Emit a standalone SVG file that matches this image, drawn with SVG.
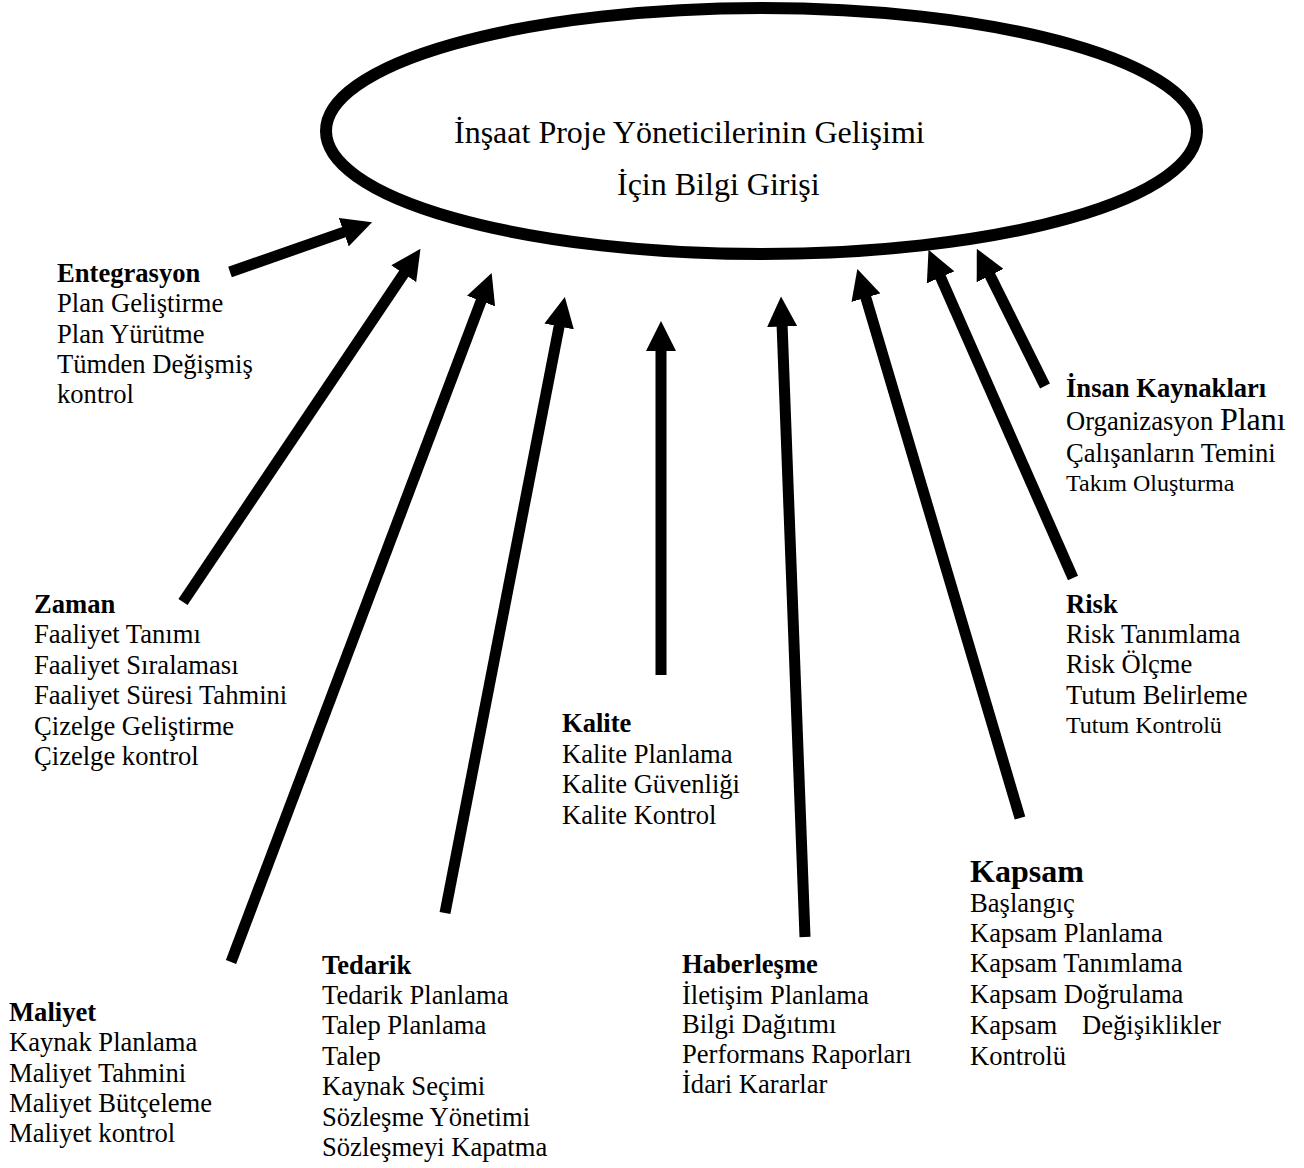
<svg xmlns="http://www.w3.org/2000/svg" width="1304" height="1168" viewBox="0 0 1304 1168">
  <style>
    text { font-family: "Liberation Serif", "Times New Roman", serif; font-size: 26.6px; fill: #000; }
    .h { font-weight: bold; }
    .big { font-size: 32px; }
    .sm { font-size: 24px; }
    .conn line { stroke: #000; stroke-width: 11; marker-end: url(#ah); }
  </style>
  <defs>
    <marker id="ah" markerUnits="userSpaceOnUse" viewBox="0 0 30 30" markerWidth="30" markerHeight="30" refX="1" refY="15" orient="auto">
      <path d="M0,0 L30,15 L0,30 z" fill="#000"/>
    </marker>
  </defs>
  <rect width="1304" height="1168" fill="#fff"/>

  <!-- central ellipse -->
  <g id="center">
    <ellipse cx="761.5" cy="131" rx="435.5" ry="123" fill="none" stroke="#000" stroke-width="12"/>
    <text class="big" x="454" y="143">İnşaat Proje Yöneticilerinin Gelişimi</text>
    <text class="big" x="617" y="195">İçin Bilgi Girişi</text>
  </g>

  <!-- arrows pointing into the ellipse -->
  <g id="connectors" class="conn">
    <line x1="230" y1="272" x2="344.7" y2="231.9"/>
    <line x1="183" y1="602" x2="404.3" y2="272.9"/>
    <line x1="231" y1="962" x2="481.4" y2="300.1"/>
    <line x1="445" y1="913" x2="559.3" y2="325.5"/>
    <line x1="661" y1="675" x2="661" y2="350"/>
    <line x1="805" y1="937" x2="782.1" y2="325.5"/>
    <line x1="1020" y1="818" x2="865.6" y2="296.7"/>
    <line x1="1073" y1="578" x2="940.2" y2="276.4"/>
    <line x1="1045" y1="386" x2="989.7" y2="274.7"/>
  </g>

  <g id="entegrasyon">
    <text class="h" x="57" y="282">Entegrasyon</text>
    <text x="57" y="312">Plan Geliştirme</text>
    <text x="57" y="343">Plan Yürütme</text>
    <text x="57" y="373">Tümden Değişmiş</text>
    <text x="57" y="403">kontrol</text>
  </g>

  <g id="insan-kaynaklari">
    <text class="h" x="1066" y="397">İnsan Kaynakları</text>
    <text x="1066" y="430">Organizasyon <tspan class="big">Planı</tspan></text>
    <text x="1066" y="462">Çalışanların Temini</text>
    <text class="sm" x="1066" y="491">Takım Oluşturma</text>
  </g>

  <g id="zaman">
    <text class="h" x="34" y="613">Zaman</text>
    <text x="34" y="643">Faaliyet Tanımı</text>
    <text x="34" y="674">Faaliyet Sıralaması</text>
    <text x="34" y="704">Faaliyet Süresi Tahmini</text>
    <text x="34" y="735">Çizelge Geliştirme</text>
    <text x="34" y="765">Çizelge kontrol</text>
  </g>

  <g id="risk">
    <text class="h" x="1066" y="613">Risk</text>
    <text x="1066" y="643">Risk Tanımlama</text>
    <text x="1066" y="673">Risk Ölçme</text>
    <text x="1066" y="704">Tutum Belirleme</text>
    <text class="sm" x="1066" y="733">Tutum Kontrolü</text>
  </g>

  <g id="kalite">
    <text class="h" x="562" y="732">Kalite</text>
    <text x="562" y="763">Kalite Planlama</text>
    <text x="562" y="793">Kalite Güvenliği</text>
    <text x="562" y="824">Kalite Kontrol</text>
  </g>

  <g id="kapsam">
    <text class="h big" x="970" y="882">Kapsam</text>
    <text x="970" y="912">Başlangıç</text>
    <text x="970" y="942">Kapsam Planlama</text>
    <text x="970" y="972">Kapsam Tanımlama</text>
    <text x="970" y="1003">Kapsam Doğrulama</text>
    <text x="970" y="1034">Kapsam<tspan x="1082">Değişiklikler</tspan></text>
    <text x="970" y="1065">Kontrolü</text>
  </g>

  <g id="maliyet">
    <text class="h" x="9" y="1021">Maliyet</text>
    <text x="9" y="1051">Kaynak Planlama</text>
    <text x="9" y="1082">Maliyet Tahmini</text>
    <text x="9" y="1112">Maliyet Bütçeleme</text>
    <text x="9" y="1142">Maliyet kontrol</text>
  </g>

  <g id="tedarik">
    <text class="h" x="322" y="974">Tedarik</text>
    <text x="322" y="1004">Tedarik Planlama</text>
    <text x="322" y="1034">Talep Planlama</text>
    <text x="322" y="1065">Talep</text>
    <text x="322" y="1095">Kaynak Seçimi</text>
    <text x="322" y="1126">Sözleşme Yönetimi</text>
    <text x="322" y="1156">Sözleşmeyi Kapatma</text>
  </g>

  <g id="haberlesme">
    <text class="h" x="682" y="973">Haberleşme</text>
    <text x="682" y="1004">İletişim Planlama</text>
    <text x="682" y="1033">Bilgi Dağıtımı</text>
    <text x="682" y="1063">Performans Raporları</text>
    <text x="682" y="1093">İdari Kararlar</text>
  </g>
</svg>
